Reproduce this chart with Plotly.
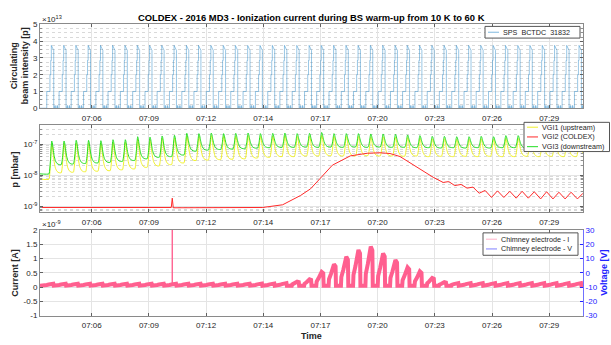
import plotly.graph_objects as go

# ---- time axis: minutes after 07:00 ----
X_RANGE = [3.2, 30.5]
TICK_TIMES = [5.80, 8.675, 11.55, 14.425, 17.30, 20.175, 23.05, 25.925, 28.80]
TICK_LABELS = ["07:06", "07:09", "07:12", "07:14", "07:17", "07:20", "07:23", "07:26", "07:29"]

# SPS cycle times (end of injection / pressure maxima), minutes after 07:00
CYCLE_T = [3.79, 4.41, 5.02, 5.64, 6.26, 6.87, 7.49, 8.11, 8.73, 9.34,
           9.96, 10.58, 11.19, 11.81, 12.43, 13.04, 13.66, 14.28, 14.90, 15.51,
           16.13, 16.75, 17.36, 17.98, 18.60, 19.21, 19.83, 20.45, 21.07, 21.68,
           22.30, 22.92, 23.53, 24.15, 24.77, 25.38, 26.00, 26.62, 27.24, 27.85,
           28.47, 29.09, 29.70, 30.32]

# ---- SPS BCTDC 31832: injection steps within one cycle (x 1e13 protons) ----
BEAM_STEP_DT = [-0.25, -0.09, -0.05, -0.02]
BEAM_STEP_LEVEL = [1.0, 2.0, 2.85, 3.75]
BEAM_DUMP_DT = 0.10
BEAM_HOOK_END = 3.45
BLIP_DT = [0.15, 0.26]
BLIP_W = 0.03
BLIP_LEVEL = 0.15

# ---- pressures, per cycle (mbar) ----
VGI3_PEAK = [1.27e-7, 1.27e-7, 1.34e-7, 1.34e-7, 1.30e-7, 1.40e-7, 1.40e-7, 1.75e-7, 1.70e-7, 1.85e-7,
             1.95e-7, 2.25e-7, 2.20e-7, 2.30e-7, 2.20e-7, 2.25e-7, 2.30e-7, 2.20e-7, 2.25e-7, 2.30e-7,
             2.20e-7, 2.25e-7, 2.40e-7, 2.20e-7, 2.20e-7, 2.20e-7, 2.15e-7, 2.15e-7, 2.10e-7, 2.00e-7,
             1.90e-7, 1.80e-7, 1.80e-7, 1.75e-7, 1.75e-7, 1.80e-7, 1.75e-7, 1.90e-7, 1.90e-7, 2.05e-7,
             1.90e-7, 1.75e-7, 1.80e-7, 1.75e-7]
VGI3_TROUGH = [2.2e-8, 2.3e-8, 2.4e-8, 2.5e-8, 2.6e-8, 2.8e-8, 3.0e-8, 3.4e-8, 3.8e-8, 4.0e-8,
               4.5e-8, 6.0e-8, 6.5e-8, 6.8e-8, 7.0e-8, 7.2e-8, 7.5e-8, 7.8e-8, 8.0e-8, 8.0e-8,
               8.2e-8, 8.0e-8, 8.2e-8, 8.0e-8, 8.2e-8, 8.0e-8, 8.2e-8, 8.0e-8, 8.0e-8, 7.8e-8,
               7.8e-8, 7.6e-8, 7.8e-8, 7.6e-8, 7.8e-8, 7.6e-8, 7.8e-8, 7.8e-8, 7.6e-8, 7.8e-8,
               7.6e-8, 7.8e-8, 7.6e-8, 7.8e-8]
VGI1_PEAK = [1.05e-7, 1.05e-7, 1.10e-7, 1.10e-7, 1.08e-7, 1.15e-7, 1.15e-7, 1.45e-7, 1.40e-7, 1.55e-7,
             1.60e-7, 1.85e-7, 1.80e-7, 1.90e-7, 1.80e-7, 1.85e-7, 1.90e-7, 1.80e-7, 1.85e-7, 1.90e-7,
             1.80e-7, 1.85e-7, 1.95e-7, 1.80e-7, 1.80e-7, 1.80e-7, 1.75e-7, 1.75e-7, 1.70e-7, 1.65e-7,
             1.55e-7, 1.50e-7, 1.50e-7, 1.45e-7, 1.45e-7, 1.50e-7, 1.45e-7, 1.55e-7, 1.55e-7, 1.70e-7,
             1.55e-7, 1.45e-7, 1.50e-7, 1.45e-7]
VGI1_TROUGH = [1.20e-8, 1.25e-8, 1.30e-8, 1.35e-8, 1.40e-8, 1.50e-8, 1.60e-8, 1.80e-8, 2.00e-8, 2.20e-8,
               2.50e-8, 3.00e-8, 3.10e-8, 3.20e-8, 3.30e-8, 3.40e-8, 3.60e-8, 3.80e-8, 4.00e-8, 4.00e-8,
               4.20e-8, 4.20e-8, 4.30e-8, 4.20e-8, 4.20e-8, 4.30e-8, 4.20e-8, 4.20e-8, 4.10e-8, 4.20e-8,
               4.00e-8, 4.10e-8, 4.00e-8, 4.10e-8, 4.00e-8, 4.10e-8, 4.00e-8, 4.00e-8, 4.10e-8, 4.00e-8,
               4.10e-8, 4.00e-8, 4.00e-8, 4.10e-8]
VGI3_START = 1.1e-8
VGI1_START = 7.4e-9
# pressure bump within one cycle: time offset (min) and fraction of the log swing
P_DT = [-0.14, -0.10, -0.06, -0.03, 0.0, 0.03, 0.07, 0.12, 0.18, 0.26, 0.36]
P_FRAC = [0.0, 0.15, 0.45, 0.80, 1.0, 0.92, 0.66, 0.38, 0.17, 0.05, 0.0]

# VGI2 (COLDEX) readings
VGI2_T = [3.2, 9.80, 9.85, 9.90, 14.4, 15.4, 16.3, 16.8, 17.3, 17.9,
          18.8, 19.65, 20.3, 20.8, 21.3, 22.16, 22.97, 23.47, 23.75, 24.05,
          24.37, 24.67, 24.97, 25.28, 25.58, 25.90, 26.20, 26.52, 26.82, 27.14,
          27.44, 27.75, 28.05, 28.37, 28.67, 28.99, 29.29, 29.60, 29.90, 30.22, 30.5]
VGI2_P = [9.0e-10, 9.0e-10, 1.8e-9, 8.8e-10, 9.0e-10, 1.1e-9, 2.2e-9, 3.6e-9, 8.0e-9, 2.1e-8,
          4.2e-8, 5.1e-8, 5.3e-8, 5.0e-8, 4.0e-8, 1.75e-8, 8.5e-9, 5.8e-9, 6.2e-9, 4.6e-9,
          5.0e-9, 3.8e-9, 4.1e-9, 2.6e-9, 3.2e-9, 1.9e-9, 3.1e-9, 1.9e-9, 3.0e-9, 1.8e-9,
          3.0e-9, 1.8e-9, 2.9e-9, 1.7e-9, 2.9e-9, 1.7e-9, 2.8e-9, 1.7e-9, 2.8e-9, 1.7e-9, 2.6e-9]

# ---- chimney electrode current (x 1e-9 A) ----
I_BASE = 0.05
I_PULSE = [0.07, 0.07, 0.07, 0.07, 0.07, 0.07, 0.07, 0.07, 0.07, 0.07,
           0.07, 0.07, 0.07, 0.07, 0.07, 0.07, 0.07, 0.08, 0.08, 0.10,
           0.14, 0.22, 0.48, 0.75, 1.01, 1.25, 1.37, 1.13, 0.90, 0.64,
           0.50, 0.27, 0.12, 0.10, 0.10, 0.10, 0.10, 0.10, 0.10, 0.10,
           0.10, 0.10, 0.10, 0.10]
I_DT = [-0.27, -0.25, -0.15, -0.05, 0.0, 0.08, 0.10]
I_FRAC = [0.0, 0.30, 0.55, 0.85, 1.0, 0.90, 0.0]
I_SPIKE_T = [9.845, 9.85, 9.855]
I_SPIKE = [I_BASE, 2.3, I_BASE]
VOLTAGE_T = []
VOLTAGE_V = []

# ---- styling ----
FONT = "Liberation Sans, Arial, Helvetica, sans-serif"
TXT = "#262626"
AXC = "#8a8a8a"
GRID = "#e4e4e4"
MINOR = "#d9d9d9"
BLUE_AX = "#2323ff"
C_BEAM = "rgba(0,114,189,0.5)"
C_VGI1 = "#f0f02a"
C_VGI2 = "#ff2a2a"
C_VGI3 = "#22dd22"
C_CUR = "#ff5f8f"
C_VOLT = "#7f7fff"
W, H = 611, 345


def px_x(p):
    return p / W


def px_y(p):
    return 1 - p / H


# beam intensity trace
bx, by = [X_RANGE[0]], [0.0]
for t in CYCLE_T:
    prev = 0.0
    for dt, lvl in zip(BEAM_STEP_DT, BEAM_STEP_LEVEL):
        bx += [t + dt, t + dt]
        by += [prev, lvl]
        prev = lvl
    bx += [t + BEAM_DUMP_DT, t + BEAM_DUMP_DT]
    by += [BEAM_HOOK_END, 0.0]
    for dt in BLIP_DT:
        bx += [t + dt, t + dt, t + dt + BLIP_W, t + dt + BLIP_W]
        by += [0.0, BLIP_LEVEL, BLIP_LEVEL, 0.0]


def pressure_trace(peaks, troughs, start):
    xs, ys = [X_RANGE[0]], [start]
    before = start
    for t, pk, after in zip(CYCLE_T, peaks, troughs):
        for dt, f in zip(P_DT, P_FRAC):
            tr = before if dt < 0 else after
            xs.append(t + dt)
            ys.append(tr * (pk / tr) ** f)
        before = after
    xs.append(X_RANGE[1])
    ys.append(before)
    return xs, ys


g_x, g_y = pressure_trace(VGI3_PEAK, VGI3_TROUGH, VGI3_START)
y_x, y_y = pressure_trace(VGI1_PEAK, VGI1_TROUGH, VGI1_START)

# current trace
cx, cy = [X_RANGE[0]], [I_BASE]
for t, a in zip(CYCLE_T, I_PULSE):
    for dt, f in zip(I_DT, I_FRAC):
        cx.append(t + dt)
        cy.append(I_BASE + a * f)
cx.append(X_RANGE[1])
cy.append(I_BASE)

fig = go.Figure()
fig.add_trace(go.Scatter(x=bx, y=by, mode="lines", name="SPS  BCTDC  31832",
                         line=dict(color=C_BEAM, width=0.8), xaxis="x", yaxis="y"))
fig.add_trace(go.Scatter(x=y_x, y=y_y, mode="lines", name="VGI1 (upstream)",
                         line=dict(color=C_VGI1, width=1, shape="spline", smoothing=0.5),
                         xaxis="x2", yaxis="y2"))
fig.add_trace(go.Scatter(x=VGI2_T, y=VGI2_P, mode="lines", name="VGI2 (COLDEX)",
                         line=dict(color=C_VGI2, width=1), xaxis="x2", yaxis="y2"))
fig.add_trace(go.Scatter(x=g_x, y=g_y, mode="lines", name="VGI3 (downstream)",
                         line=dict(color=C_VGI3, width=1, shape="spline", smoothing=0.5),
                         xaxis="x2", yaxis="y2"))
fig.add_trace(go.Scatter(x=cx, y=cy, mode="lines", name="Chimney electrode - I",
                         line=dict(color=C_CUR, width=4), xaxis="x3", yaxis="y3"))
fig.add_trace(go.Scatter(x=I_SPIKE_T, y=I_SPIKE, mode="lines", name="Chimney electrode - I",
                         line=dict(color=C_CUR, width=1), xaxis="x3", yaxis="y3"))
fig.add_trace(go.Scatter(x=VOLTAGE_T, y=VOLTAGE_V, mode="lines", name="Chimney electrode - V",
                         line=dict(color=C_VOLT, width=1), xaxis="x3", yaxis="y4"))

xdom = [px_x(40), px_x(583)]
tickfont = dict(family=FONT, size=8, color=TXT)


def xaxis(anchor):
    return dict(domain=xdom, anchor=anchor, range=X_RANGE, tickvals=TICK_TIMES, ticktext=TICK_LABELS,
                showline=True, linecolor=AXC, linewidth=1, mirror="ticks", ticks="inside", ticklen=3,
                tickcolor="#606060", tickfont=tickfont, showgrid=True, gridcolor=GRID, zeroline=False,
                ticklabelstandoff=2)


common_y = dict(showline=True, linecolor=AXC, linewidth=1, ticks="inside", ticklen=3,
                tickcolor="#606060", tickfont=tickfont, showgrid=True, gridcolor=GRID, zeroline=False)

minor_log = [m * 10 ** e for e in (-10, -9, -8, -7) for m in range(2, 10)]

fig.update_layout(
    width=W, height=H, margin=dict(l=0, r=0, t=0, b=0),
    paper_bgcolor="white", plot_bgcolor="white", showlegend=False,
    font=dict(family=FONT, size=8, color=TXT),
    xaxis=xaxis("y"),
    xaxis2=dict(xaxis("y2"), matches="x"),
    xaxis3=dict(xaxis("y3"), matches="x"),
    yaxis=dict(common_y, domain=[px_y(107), px_y(21)], anchor="x", range=[0, 5], mirror="ticks",
               tickvals=[0, 1, 2, 3, 4, 5], ticktext=["0", "1", "2", "3", "4", "5"],
               minor=dict(dtick=0.25, showgrid=True, gridcolor=MINOR, griddash="dot",
                          ticks="inside", ticklen=2, tickcolor="#909090")),
    yaxis2=dict(common_y, domain=[px_y(213.5), px_y(124)], anchor="x2", type="log",
                range=[-9.19, -6.37], mirror="ticks",
                tickvals=[1e-9, 1e-8, 1e-7],
                ticktext=["10<sup>-9</sup>", "10<sup>-8</sup>", "10<sup>-7</sup>"],
                minor=dict(tickvals=minor_log, showgrid=True, gridcolor=MINOR, griddash="dot",
                           ticks="inside", ticklen=2, tickcolor="#909090")),
    yaxis3=dict(common_y, domain=[px_y(320), px_y(232)], anchor="x3", range=[-1, 2], mirror=False,
                tickvals=[-1, -0.5, 0, 0.5, 1, 1.5, 2],
                ticktext=["-1", "-0.5", "0", "0.5", "1", "1.5", "2"]),
    yaxis4=dict(overlaying="y3", anchor="x3", side="right", range=[-30, 30],
                tickvals=[-30, -20, -10, 0, 10, 20, 30],
                ticktext=["-30", "-20", "-10", "0", "10", "20", "30"],
                showline=True, linecolor="#7070ff", linewidth=1, ticks="inside", ticklen=3,
                tickcolor=BLUE_AX, tickfont=dict(family=FONT, size=8, color=BLUE_AX),
                showgrid=False, zeroline=False),
)

# legend boxes: (left, top, right, bottom) in pixels, then rows of (colour, label, row centre)
LEGENDS = [
    ((485, 23, 580, 35), [(C_BEAM, "SPS  BCTDC  31832", 29)]),
    ((524, 121.5, 609.5, 151.5), [(C_VGI1, "VGI1 (upstream)", 126.5),
                                  (C_VGI2, "VGI2 (COLDEX)", 136.5),
                                  (C_VGI3, "VGI3 (downstream)", 146.5)]),
    ((483, 235, 578, 258), [("#ffb3c9", "Chimney electrode - I", 241.5),
                            (C_VOLT, "Chimney electrode - V", 251.5)]),
]

shapes = []
annotations = []
for (l, t, r, b), rows in LEGENDS:
    shapes.append(dict(type="rect", xref="paper", yref="paper", layer="above",
                       x0=px_x(l), x1=px_x(r), y0=px_y(b), y1=px_y(t),
                       fillcolor="white", line=dict(color="#555555", width=1)))
    for colour, label, yc in rows:
        shapes.append(dict(type="line", xref="paper", yref="paper", layer="above",
                           x0=px_x(l + 3), x1=px_x(l + 14), y0=px_y(yc), y1=px_y(yc),
                           line=dict(color=colour, width=1)))
        annotations.append(dict(text=label, x=px_x(l + 15.5), y=px_y(yc), xanchor="left",
                                font=dict(size=7.2)))

annotations += [
    dict(text="<b>COLDEX - 2016 MD3 - Ionization current during BS warm-up from 10 K to 60 K</b>",
         x=px_x(311.5), y=px_y(14), font=dict(size=9.4, color="#000000")),
    dict(text="×10<sup>13</sup>", x=px_x(40), y=px_y(15), xanchor="left", font=dict(size=8)),
    dict(text="×10<sup>-9</sup>", x=px_x(40), y=px_y(226), xanchor="left", font=dict(size=8)),
    dict(text="<b>Circulating</b><br><b>beam intensity [p]</b>", x=px_x(20), y=px_y(64),
         textangle=-90, font=dict(size=9)),
    dict(text="<b>p [mbar]</b>", x=px_x(15), y=px_y(170), textangle=-90, font=dict(size=9)),
    dict(text="<b>Current [A]</b>", x=px_x(15), y=px_y(276), textangle=-90, font=dict(size=9)),
    dict(text="<b>Voltage [V]</b>", x=px_x(604), y=px_y(276), textangle=-90,
         font=dict(size=9, color=BLUE_AX)),
    dict(text="<b>Time</b>", x=px_x(311.5), y=px_y(340.5), font=dict(size=9)),
]
for a in annotations:
    a.setdefault("xref", "paper")
    a.setdefault("yref", "paper")
    a.setdefault("xanchor", "center")
    a.setdefault("yanchor", "middle")
    a.setdefault("showarrow", False)
    a["font"] = dict(dict(family=FONT, color=TXT), **a["font"])
fig.update_layout(shapes=shapes, annotations=annotations)

fig.write_html("out.html")
